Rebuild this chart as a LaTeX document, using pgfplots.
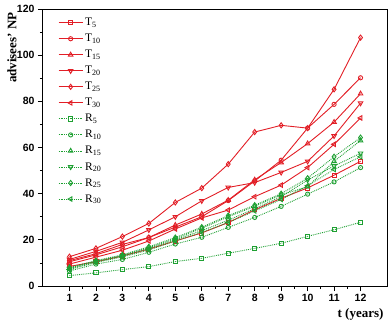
\documentclass[border=0pt]{standalone}
\usepackage{fontspec}
\setmainfont{Liberation Serif}
\setsansfont{Liberation Sans}
\usepackage{pgfplots}
\pgfplotsset{compat=1.18}
\usepackage{pgfplotstable}

\definecolor{tred}{RGB}{226,30,38}
\definecolor{rgreen}{RGB}{30,160,50}

% advisees' NP per year, T = red solid, R = green dotted
\pgfplotstableread{
t  T5   T10  T15  T20  T25   T30  R5   R10  R15  R20  R25  R30
1  8.5  11.0 10.5 11.5 12.7  9.5  4.5  6.5  7.8  7.5  8.0  7.2
2  10.5 14.0 13.5 15.0 16.3  12.5 5.7  9.5  10.8 10.5 11.0 10.2
3  13.0 18.0 17.0 18.9 21.4  15.5 7.1  11.5 13.2 13.0 13.5 12.6
4  16.0 21.0 21.0 24.3 27.1  19.5 8.4  14.6 16.6 16.2 17.0 15.6
5  19.5 25.5 26.4 30.0 36.2  24.7 10.6 18.2 20.5 20.0 21.0 19.5
6  23.0 30.0 31.2 36.9 42.4  29.5 12.0 21.1 25.0 24.0 25.5 23.2
7  27.5 37.0 37.2 42.7 52.8  32.9 14.2 25.4 30.0 28.5 30.5 27.5
8  33.0 45.5 46.0 44.8 66.7  38.7 16.3 29.7 34.5 33.5 35.0 32.5
9  38.0 54.5 53.5 49.2 69.6  43.7 18.5 34.5 39.5 38.7 40.0 37.5
10 42.5 68.4 61.7 54.0 68.4  51.3 21.5 39.8 43.0 45.9 46.7 43.4
11 48.0 78.7 71.0 65.0 85.2  61.4 24.4 45.1 54.0 52.0 56.0 50.5
12 54.0 90.2 83.3 79.2 107.6 72.8 27.6 51.3 63.0 57.5 64.3 56.0
}\data

\begin{document}
\begin{tikzpicture}
\path[use as bounding box] (-43pt,-36pt) rectangle (347pt,286pt);
\begin{axis}[
  scale only axis,
  width=344pt, height=277pt,
  xmin=0, xmax=13, ymin=0, ymax=120,
  xtick={1,...,12}, ytick={0,20,...,120},
  minor x tick num=1, minor y tick num=1,
  xtick pos=bottom, ytick pos=left,
  tick align=outside,
  major tick length=5pt, minor tick length=3pt,
  axis line style={line width=1pt},
  every tick/.style={black, line width=0.8pt},
  /pgf/number format/assume math mode=true,
  ticklabel style={font=\sffamily\bfseries\fontsize{10.5}{12}\selectfont},
  xlabel={t (years)},
  ylabel={advisees' NP},
  every axis x label/.style={at={(rel axis cs:1,0)}, anchor=north east, yshift=-19pt,
    font=\bfseries\fontsize{13}{15}\selectfont},
  every axis y label/.style={at={(rel axis cs:0,1)}, xshift=-31pt, rotate=90, anchor=east,
    font=\bfseries\fontsize{13}{15}\selectfont},
  legend style={draw=none, fill=none, at={(rel axis cs:0,1)}, anchor=north west,
    xshift=12pt, yshift=-5pt, font=\fontsize{11.5}{12}\selectfont, row sep=3pt},
  legend cell align=left,
  legend image code/.code={\draw[mark repeat=2,mark phase=2] plot coordinates {(0pt,0pt)(12pt,0pt)(24pt,0pt)};},
  every axis plot/.append style={line width=0.9pt, mark size=2.1pt, mark options={solid, fill=white}},
]
\addplot[tred, mark=square] table[x=t,y=T5]{\data};
\addlegendentry{T\textsubscript{5}}
\addplot[tred, mark=o] table[x=t,y=T10]{\data};
\addlegendentry{T\textsubscript{10}}
\addplot[tred, mark=triangle, mark size=2.6pt] table[x=t,y=T15]{\data};
\addlegendentry{T\textsubscript{15}}
\addplot[tred, mark=triangle, mark size=2.6pt, mark options={solid, fill=white, rotate=180}] table[x=t,y=T20]{\data};
\addlegendentry{T\textsubscript{20}}
\addplot[tred, mark=diamond, mark size=2.6pt] table[x=t,y=T25]{\data};
\addlegendentry{T\textsubscript{25}}
\addplot[tred, mark=triangle, mark size=2.6pt, mark options={solid, fill=white, rotate=90}] table[x=t,y=T30]{\data};
\addlegendentry{T\textsubscript{30}}
\addplot[rgreen, densely dotted, mark=square] table[x=t,y=R5]{\data};
\addlegendentry{R\textsubscript{5}}
\addplot[rgreen, densely dotted, mark=o] table[x=t,y=R10]{\data};
\addlegendentry{R\textsubscript{10}}
\addplot[rgreen, densely dotted, mark=triangle, mark size=2.6pt] table[x=t,y=R15]{\data};
\addlegendentry{R\textsubscript{15}}
\addplot[rgreen, densely dotted, mark=triangle, mark size=2.6pt, mark options={solid, fill=white, rotate=180}] table[x=t,y=R20]{\data};
\addlegendentry{R\textsubscript{20}}
\addplot[rgreen, densely dotted, mark=diamond, mark size=2.6pt] table[x=t,y=R25]{\data};
\addlegendentry{R\textsubscript{25}}
\addplot[rgreen, densely dotted, mark=triangle, mark size=2.6pt, mark options={solid, fill=white, rotate=90}] table[x=t,y=R30]{\data};
\addlegendentry{R\textsubscript{30}}
\end{axis}
\end{tikzpicture}
\end{document}
